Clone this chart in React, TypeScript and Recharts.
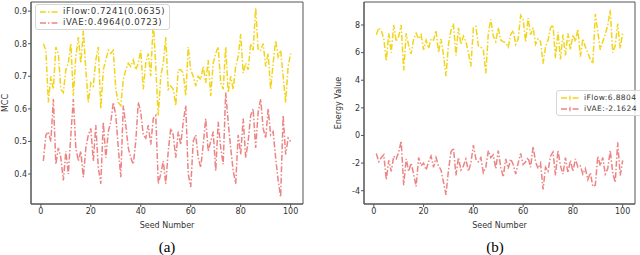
import React from "react";
import { LineChart, Line, XAxis, YAxis, Legend, ReferenceArea } from "recharts";

const seeds: number[] = Array.from({ length: 100 }, (_, i) => i + 1);

const mccIFlow = [
  0.80, 0.78, 0.62, 0.70, 0.66, 0.79, 0.77, 0.66, 0.65, 0.72,
  0.74, 0.80, 0.64, 0.76, 0.82, 0.74, 0.84, 0.72, 0.62, 0.68,
  0.67, 0.75, 0.79, 0.60, 0.72, 0.75, 0.78, 0.77, 0.78, 0.66,
  0.62, 0.61, 0.69, 0.72, 0.74, 0.73, 0.75, 0.72, 0.74, 0.78,
  0.66, 0.74, 0.77, 0.70, 0.87, 0.73, 0.58, 0.70, 0.74, 0.82,
  0.66, 0.67, 0.66, 0.61, 0.72, 0.72, 0.71, 0.64, 0.79, 0.72,
  0.70, 0.67, 0.70, 0.69, 0.73, 0.68, 0.75, 0.64, 0.74, 0.77,
  0.79, 0.68, 0.66, 0.79, 0.65, 0.70, 0.66, 0.73, 0.76, 0.83,
  0.71, 0.74, 0.72, 0.80, 0.78, 0.91, 0.78, 0.78, 0.80, 0.73,
  0.77, 0.66, 0.74, 0.81, 0.76, 0.78, 0.70, 0.62, 0.73, 0.77,
];

const mccIVAE = [
  0.44, 0.52, 0.53, 0.50, 0.63, 0.43, 0.48, 0.45, 0.38, 0.47,
  0.40, 0.52, 0.63, 0.48, 0.44, 0.47, 0.39, 0.48, 0.52, 0.54,
  0.44, 0.55, 0.42, 0.37, 0.56, 0.45, 0.53, 0.56, 0.62, 0.58,
  0.48, 0.39, 0.61, 0.55, 0.48, 0.45, 0.43, 0.50, 0.62, 0.59,
  0.52, 0.51, 0.55, 0.49, 0.57, 0.58, 0.37, 0.40, 0.44, 0.37,
  0.47, 0.54, 0.52, 0.45, 0.53, 0.49, 0.56, 0.61, 0.40, 0.36,
  0.50, 0.52, 0.45, 0.42, 0.49, 0.57, 0.47, 0.50, 0.53, 0.41,
  0.56, 0.48, 0.43, 0.65, 0.56, 0.48, 0.41, 0.37, 0.52, 0.46,
  0.57, 0.45, 0.50, 0.58, 0.60, 0.48, 0.59, 0.63, 0.54, 0.51,
  0.60, 0.52, 0.53, 0.45, 0.38, 0.33, 0.58, 0.46, 0.51, 0.50,
];

const energyIFlow = [
  7.3, 7.8, 7.6, 7.0, 5.4, 7.4, 6.0, 8.0, 6.8, 7.2,
  8.0, 4.7, 7.4, 6.5, 5.9, 7.0, 7.4, 7.0, 7.3, 6.2,
  6.9, 6.3, 7.0, 6.9, 7.6, 6.0, 7.0, 5.8, 4.3, 6.6,
  7.6, 8.1, 5.8, 7.8, 6.6, 7.2, 6.8, 6.0, 5.0, 7.8,
  7.9, 6.5, 6.4, 6.2, 4.5, 7.4, 8.4, 7.2, 6.8, 7.8,
  6.9, 6.8, 6.7, 6.4, 7.3, 7.6, 6.6, 7.0, 8.7, 8.4,
  6.8, 8.5, 7.3, 7.8, 6.6, 7.0, 6.8, 5.2, 6.4, 6.9,
  7.8, 8.0, 5.6, 7.5, 5.5, 7.3, 5.8, 7.4, 6.2, 7.3,
  6.8, 7.7, 5.7, 7.0, 6.4, 6.0, 5.5, 5.2, 8.8, 7.5,
  6.2, 6.8, 7.3, 8.0, 9.1, 6.0, 6.5, 8.1, 6.3, 7.4,
];

const energyIVAE = [
  -1.3, -1.9, -1.6, -1.4, -3.2, -1.8, -2.6, -1.5, -1.7, -1.2,
  -0.4, -3.6, -1.7, -2.6, -2.0, -2.8, -3.7, -1.6, -2.2, -2.0,
  -2.5, -1.9, -1.5, -2.3, -1.6, -2.2, -2.5, -3.4, -4.3, -2.5,
  -1.2, -0.9, -2.9, -1.6, -2.5, -2.2, -1.7, -2.6, -2.0, -0.7,
  -1.7, -1.9, -1.6, -2.7, -2.3, -1.1, -1.6, -1.4, -2.4, -1.1,
  -2.3, -3.0, -1.7, -2.4, -1.7, -2.1, -2.8, -2.0, -1.3, -2.1,
  -1.9, -1.6, -2.3, -0.8, -1.9, -2.4, -2.0, -3.9, -2.3, -2.6,
  -1.5, -1.2, -2.9, -1.1, -2.2, -2.8, -1.6, -2.7, -1.8, -2.6,
  -1.7, -2.3, -2.2, -2.8, -2.4, -3.2, -2.7, -3.7, -3.6, -1.5,
  -2.2, -1.6, -2.8, -2.4, -1.1, -2.7, -3.4, -0.5, -2.9, -1.8,
];

const xTicks = [0, 20, 40, 60, 80, 100];
const mccTicks = [0.4, 0.5, 0.6, 0.7, 0.8, 0.9];
const energyTicks = [-4, -2, 0, 2, 4, 6, 8];

const mccLabels = ["iFlow:0.7241(0.0635)", "iVAE:0.4964(0.0723)"];
const energyLabels = ["iFlow:6.8804", "iVAE:-2.1624"];

const X_DOMAIN = [-3.95, 104.95];
const MCC_DOMAIN = [0.308, 0.928];
const ENERGY_DOMAIN = [-4.963, 9.665];

const YELLOW = "#f2d41c";
const RED = "#ec8484";
const DASH = "6 2 1.5 2";
const FRAME = "#555";
const FONT = "'DejaVu Sans', sans-serif";

const mccData = seeds.map((s, i) => ({ seed: s, iFlow: mccIFlow[i], iVAE: mccIVAE[i] }));
const energyData = seeds.map((s, i) => ({ seed: s, iFlow: energyIFlow[i], iVAE: energyIVAE[i] }));

const tickStyle = { fontSize: 8, fill: "#333", fontFamily: FONT };

function LegendBox({ labels, plus, fontSize, spacing }: { labels: string[]; plus: boolean; fontSize: number; spacing: number }) {
  const colors = [YELLOW, RED];
  return (
    <div
      style={{
        border: "1px solid #d6d6d6",
        borderRadius: 3,
        background: "rgba(255,255,255,0.85)",
        padding: "1px 4px 1px 3px",
        fontFamily: FONT,
        fontSize,
        color: "#333",
        lineHeight: "11px",
        whiteSpace: "nowrap",
      }}
    >
      {labels.map((l, i) => (
        <div key={l} style={{ display: "flex", alignItems: "center" }}>
          <svg width={20} height={8} style={{ marginRight: 4, flexShrink: 0 }}>
            <line x1={1} y1={4} x2={19} y2={4} stroke={colors[i]} strokeWidth={1.5} strokeDasharray={DASH} />
            {plus && <line x1={10} y1={1.5} x2={10} y2={6.5} stroke={colors[i]} strokeWidth={1} />}
          </svg>
          <span style={{ fontSize, letterSpacing: spacing }}>{l}</span>
        </div>
      ))}
    </div>
  );
}

function Panel({
  data,
  yDomain,
  yTicks,
  yLabel,
  yWidth,
  labelOffset,
  rightMargin,
  labels,
  legendPos,
  legendFont,
  legendSpacing,
  plus,
  fmt,
}: any) {
  return (
    <LineChart
      width={320}
      height={255}
      data={data}
      margin={{ top: 2, right: rightMargin, bottom: 0, left: 0 }}
    >
      <XAxis
        dataKey="seed"
        type="number"
        domain={X_DOMAIN}
        ticks={xTicks}
        allowDataOverflow
        height={51}
        stroke={FRAME}
        tickSize={3}
        tickMargin={1}
        tick={tickStyle}
        label={{ value: "Seed Number", position: "insideBottom", offset: 27, style: { fontSize: 8, fill: "#333", fontFamily: FONT } }}
      />
      <YAxis
        type="number"
        domain={yDomain}
        ticks={yTicks}
        allowDataOverflow
        width={yWidth}
        stroke={FRAME}
        tickSize={3}
        tickMargin={1}
        tick={tickStyle}
        tickFormatter={fmt}
        label={{ value: yLabel, angle: -90, position: "insideLeft", offset: labelOffset, style: { textAnchor: "middle", fontSize: 8, fill: "#333", fontFamily: FONT } }}
      />
      <ReferenceArea
        x1={X_DOMAIN[0]}
        x2={X_DOMAIN[1]}
        y1={yDomain[0]}
        y2={yDomain[1]}
        fill="none"
        fillOpacity={0}
        stroke={FRAME}
        strokeWidth={1}
        ifOverflow="visible"
      />
      <Legend
        layout="vertical"
        align="center"
        verticalAlign="middle"
        wrapperStyle={{ position: "absolute", width: "auto", height: "auto", ...legendPos }}
        content={() => <LegendBox labels={labels} plus={plus} fontSize={legendFont} spacing={legendSpacing} />}
      />
      <Line dataKey="iFlow" stroke={YELLOW} strokeWidth={1.5} strokeDasharray={DASH} dot={false} isAnimationActive={false} />
      <Line dataKey="iVAE" stroke={RED} strokeWidth={1.5} strokeDasharray={DASH} dot={false} isAnimationActive={false} />
    </LineChart>
  );
}

export default function App() {
  return (
    <div style={{ position: "absolute", left: 0, top: 0, width: 640, height: 255, background: "#fff" }}>
      <div style={{ position: "absolute", left: 0, top: 0 }}>
        <Panel
          data={mccData}
          yDomain={MCC_DOMAIN}
          yTicks={mccTicks}
          yLabel="MCC"
          yWidth={31}
          labelOffset={5}
          rightMargin={17}
          labels={mccLabels}
          legendPos={{ left: 35, top: 4 }}
          legendFont={8.5}
          legendSpacing={0.6}
          plus={false}
          fmt={(v: number) => v.toFixed(1)}
        />
      </div>
      <div style={{ position: "absolute", left: 320, top: 0 }}>
        <Panel
          data={energyData}
          yDomain={ENERGY_DOMAIN}
          yTicks={energyTicks}
          yLabel="Energy Value"
          yWidth={44}
          labelOffset={18}
          rightMargin={5}
          labels={energyLabels}
          legendPos={{ left: 236, top: 90 }}
          legendFont={7.5}
          legendSpacing={0.4}
          plus={true}
          fmt={(v: number) => String(v)}
        />
      </div>
      <div style={{ position: "absolute", left: 147, top: 239, width: 40, textAlign: "center", fontFamily: "'Liberation Serif', serif", fontSize: 15 }}>(a)</div>
      <div style={{ position: "absolute", left: 475, top: 239, width: 40, textAlign: "center", fontFamily: "'Liberation Serif', serif", fontSize: 15 }}>(b)</div>
    </div>
  );
}
